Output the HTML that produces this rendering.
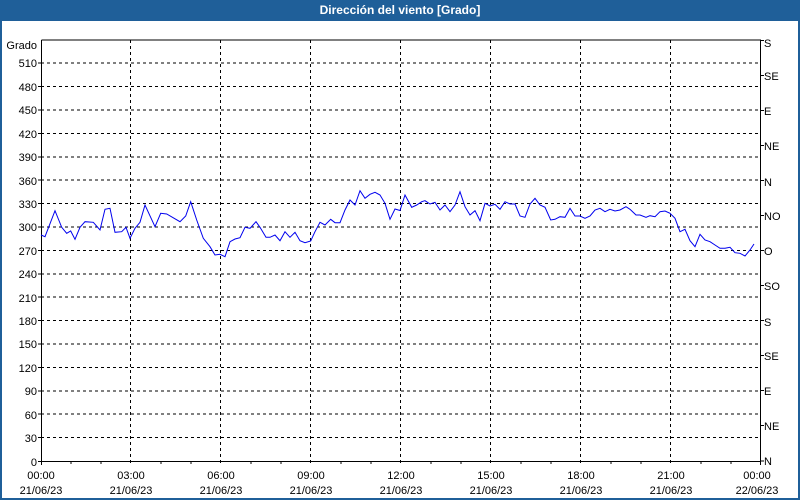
<!DOCTYPE html>
<html><head><meta charset="utf-8"><style>
html,body{margin:0;padding:0;width:800px;height:500px;overflow:hidden;background:#fff}
svg{display:block;font-family:"Liberation Sans",sans-serif}
</style></head><body>
<svg width="800" height="500" viewBox="0 0 800 500" xmlns="http://www.w3.org/2000/svg">
<rect x="0" y="0" width="800" height="500" fill="#1f5f99"/>
<rect x="2" y="21" width="796" height="477" fill="#fff"/>
<text x="400" y="14" fill="#fff" font-size="12" font-weight="bold" text-anchor="middle">Dirección del viento [Grado]</text>
<g stroke="#000" stroke-width="1" stroke-dasharray="3,3" fill="none" shape-rendering="crispEdges">
<path d="M41 437.6H760M41 414.2H760M41 390.8H760M41 367.4H760M41 344H760M41 320.6H760M41 297.2H760M41 273.8H760M41 250.4H760M41 227H760M41 203.6H760M41 180.2H760M41 156.8H760M41 133.4H760M41 110H760M41 86.6H760M41 63.2H760"/>
<path d="M130.5 40V464M220.5 40V464M310.5 40V464M400.5 40V464M490.5 40V464M580.5 40V464M670.5 40V464"/>
</g>
<g stroke="#000" stroke-width="1" fill="none" shape-rendering="crispEdges">
<path d="M41.5 40V461.5H760.5V40H41.5"/>
<path d="M41.5 461V465M760.5 461V465M71 461V464M101 461V464M161 461V464M191 461V464M251 461V464M281 461V464M341 461V464M371 461V464M431 461V464M461 461V464M521 461V464M551 461V464M611 461V464M641 461V464M701 461V464M731 461V464"/>
<path d="M38 461.5H41M38 437.6H41M38 414.2H41M38 390.8H41M38 367.4H41M38 344H41M38 320.6H41M38 297.2H41M38 273.8H41M38 250.4H41M38 227H41M38 203.6H41M38 180.2H41M38 156.8H41M38 133.4H41M38 110H41M38 86.6H41M38 63.2H41"/>
<path d="M760 40.5H764M760 75.5H764M760 110.5H764M760 145.5H764M760 180.5H764M760 215.5H764M760 250.5H764M760 285.5H764M760 320.5H764M760 355.5H764M760 390.5H764M760 425.5H764M760 461H764"/>
</g>
<g font-size="11" fill="#000" text-anchor="end">
<text x="37" y="49">Grado</text>
<text x="37" y="466">0</text><text x="37" y="442">30</text><text x="37" y="419">60</text><text x="37" y="395">90</text><text x="37" y="372">120</text><text x="37" y="348">150</text><text x="37" y="325">180</text><text x="37" y="302">210</text><text x="37" y="278">240</text><text x="37" y="255">270</text><text x="37" y="231">300</text><text x="37" y="208">330</text><text x="37" y="185">360</text><text x="37" y="161">390</text><text x="37" y="138">420</text><text x="37" y="114">450</text><text x="37" y="91">480</text><text x="37" y="67">510</text>
</g>
<g font-size="11" fill="#000">
<text x="764" y="47">S</text><text x="764" y="80">SE</text><text x="764" y="115">E</text><text x="764" y="150">NE</text><text x="764" y="186">N</text><text x="764" y="220">NO</text><text x="764" y="255">O</text><text x="764" y="290">SO</text><text x="764" y="326">S</text><text x="764" y="360">SE</text><text x="764" y="395">E</text><text x="764" y="430">NE</text><text x="764" y="465">N</text>
</g>
<g font-size="11" fill="#000" text-anchor="middle">
<text x="41" y="479">00:00</text><text x="41" y="494">21/06/23</text>
<text x="131" y="479">03:00</text><text x="131" y="494">21/06/23</text>
<text x="221" y="479">06:00</text><text x="221" y="494">21/06/23</text>
<text x="311" y="479">09:00</text><text x="311" y="494">21/06/23</text>
<text x="401" y="479">12:00</text><text x="401" y="494">21/06/23</text>
<text x="491" y="479">15:00</text><text x="491" y="494">21/06/23</text>
<text x="581" y="479">18:00</text><text x="581" y="494">21/06/23</text>
<text x="671" y="479">21:00</text><text x="671" y="494">21/06/23</text>
<text x="757" y="479">00:00</text><text x="757" y="494">22/06/23</text>
</g>
<polyline fill="none" stroke="#0000ee" stroke-width="1" points="41,235 45,236.7 55,210.7 61.7,227.3 66.7,233.3 70.7,231 75,239.3 80,227.3 85,221.7 93.3,222.3 100,230 105,209.3 110,208.3 115,232.3 121.7,231.7 126,227.3 130,238.3 135,228.3 140,222.3 145,205 155,226.7 160.7,213.3 166.7,214 180,221.7 185.7,216 190.7,201.7 196.7,220 203.3,238.3 210,246.7 215,255 220,254.3 225,256.7 230,241.7 235,239 240,237.7 245,227.3 250,228.3 256,221.7 260,227.3 266,237.3 270,237.3 275,235 280,240.7 285,231.7 290,237.3 295,232.3 300,240.7 305,242.7 310.7,241 315,231.7 320,222.3 325,225 330.7,219.3 335,222.7 340,222.7 345,210 350,200 355,205 360,190.7 365,198.3 370,194.3 375,192.3 380,195 385,203.3 390,219.3 395,209 400,210.5 405,195 411.7,207.3 416.7,205 421.7,201.7 425,200.7 430,204 435,202.3 440,210 445,205 450,211.7 455,205 460,191.7 465,206.7 470,215 475,210.7 480,220.7 485,203.3 490,206 495,204.3 500,209.3 505,201.7 510,204 515,204 520,216 525,217.3 530,204 535,198.3 540,205 545,207.3 550.7,220 555,219.3 560,216.7 565,217.3 570,208.3 575,216 580,216 585,218.3 590,216 595,210 600,208.3 605,211.7 610,209.3 615,211 620,210 626,206.7 630,209.3 636,215 640,215 646,217.3 650,215.7 655,216.7 660,211.7 665,211 670,213.3 675,218.3 680,231.7 685,229.3 690,240.7 695,246.7 700,234.3 705,240 710,241.7 715,245 720,248.3 725,248.3 730,247.3 735,252.7 740,253.3 745,256 750,250 754,244"/>
</svg>
</body></html>
